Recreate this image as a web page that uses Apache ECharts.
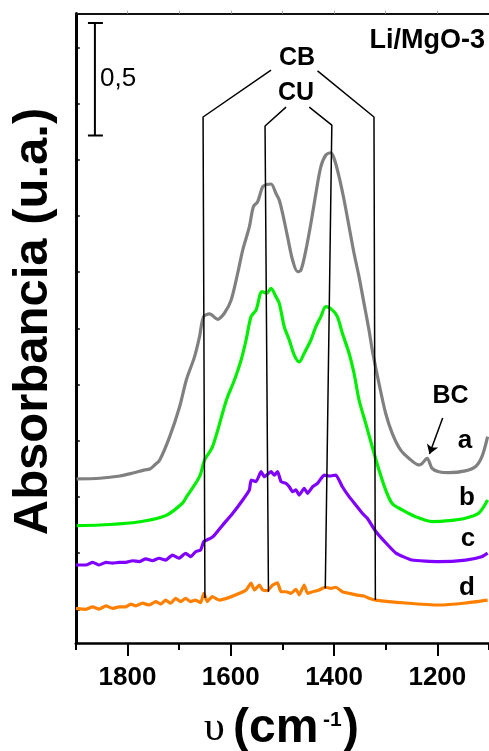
<!DOCTYPE html>
<html><head><meta charset="utf-8">
<script src="https://cdn.jsdelivr.net/npm/echarts@6/dist/echarts.min.js"></script>
<style>html,body{margin:0;padding:0;background:#fff}#c{width:489px;height:751px}</style>
</head><body><div id="c"></div>
<script>
// ---- data ----
const xTickLabels = [1200, 1400, 1600, 1800];
const xMinorTicks = [1100, 1300, 1500, 1700, 1900];
const xTopTicks = [1200, 1300, 1400, 1500, 1600, 1700, 1800];
const yTicks = [0.15, 0.40, 0.65, 0.90, 1.15, 1.40, 1.65, 1.90, 2.15, 2.40, 2.65];

// curve a (gray) [wavenumber, absorbance]
const curveA = [[1898.3,0.730],[1853.3,0.733],[1814.7,0.743],[1789.6,0.756],[1766.5,0.770],[1756.8,0.774],[1747.2,0.792],[1737.5,0.814],[1718.2,0.918],[1699.0,1.051],[1686.0,1.170],[1670.0,1.274],[1660.4,1.363],[1652.6,1.452],[1641.1,1.464],[1625.6,1.440],[1612.1,1.468],[1599.2,1.526],[1586.5,1.646],[1576.8,1.748],[1563.9,1.852],[1556.2,1.941],[1547.9,1.963],[1538.2,2.030],[1530.5,2.040],[1522.0,2.042],[1512.4,2.000],[1506.0,1.970],[1499.6,1.911],[1490.0,1.807],[1480.3,1.704],[1470.7,1.652],[1464.1,1.659],[1454.5,1.748],[1444.8,1.867],[1435.2,2.000],[1425.5,2.119],[1415.9,2.171],[1406.2,2.181],[1399.9,2.156],[1390.2,2.074],[1380.6,1.971],[1370.9,1.852],[1361.3,1.734],[1351.6,1.629],[1342.0,1.511],[1332.3,1.392],[1326.0,1.303],[1313.0,1.155],[1300.1,1.022],[1287.4,0.933],[1271.2,0.859],[1255.2,0.822],[1235.9,0.792],[1229.5,0.799],[1219.8,0.822],[1210.2,0.777],[1197.3,0.762],[1178.0,0.758],[1145.8,0.766],[1126.5,0.784],[1113.7,0.829],[1102.7,0.918]];
// curve b (green)
const curveB = [[1898.3,0.522],[1853.3,0.525],[1789.6,0.535],[1756.8,0.547],[1724.0,0.569],[1693.1,0.623],[1685.4,0.651],[1660.4,0.740],[1650.7,0.814],[1635.3,0.873],[1608.3,1.081],[1592.8,1.170],[1579.9,1.259],[1570.3,1.348],[1560.6,1.452],[1551.0,1.481],[1539.4,1.563],[1530.5,1.556],[1522.0,1.578],[1512.4,1.540],[1506.0,1.511],[1496.4,1.407],[1486.7,1.348],[1477.1,1.281],[1467.4,1.251],[1457.8,1.289],[1444.8,1.348],[1435.2,1.407],[1425.5,1.452],[1415.9,1.496],[1403.2,1.481],[1393.5,1.452],[1383.9,1.378],[1370.9,1.289],[1361.3,1.200],[1351.6,1.081],[1338.7,0.977],[1326.0,0.873],[1313.0,0.770],[1300.1,0.681],[1287.4,0.621],[1268.1,0.592],[1242.2,0.562],[1210.2,0.540],[1178.0,0.544],[1145.8,0.555],[1120.1,0.577],[1102.7,0.636]];
// curve c (purple)
const curveC = [[1899.6,0.347],[1880.3,0.347],[1867.4,0.359],[1854.7,0.347],[1841.7,0.359],[1828.8,0.355],[1816.1,0.359],[1803.1,0.359],[1790.2,0.366],[1777.5,0.362],[1764.5,0.374],[1751.6,0.366],[1738.9,0.377],[1725.9,0.369],[1713.0,0.391],[1700.3,0.377],[1687.4,0.399],[1677.7,0.384],[1668.1,0.406],[1658.4,0.414],[1652.1,0.451],[1639.1,0.466],[1631.4,0.480],[1615.4,0.525],[1596.1,0.577],[1576.8,0.636],[1563.9,0.681],[1560.6,0.725],[1551.0,0.718],[1541.3,0.762],[1534.9,0.740],[1522.0,0.762],[1515.6,0.747],[1509.3,0.762],[1502.7,0.718],[1493.1,0.710],[1486.7,0.695],[1480.3,0.673],[1473.8,0.681],[1467.4,0.658],[1457.8,0.688],[1451.4,0.666],[1441.7,0.695],[1432.1,0.710],[1419.2,0.747],[1409.5,0.743],[1396.6,0.747],[1383.9,0.695],[1370.9,0.651],[1358.0,0.614],[1345.3,0.577],[1335.6,0.555],[1318.8,0.495],[1299.5,0.445],[1280.2,0.400],[1249.4,0.369],[1197.3,0.362],[1145.2,0.369],[1114.3,0.384],[1102.7,0.400]];
// curve d (orange)
const curveD = [[1899.6,0.154],[1880.3,0.150],[1867.4,0.161],[1854.7,0.151],[1841.7,0.165],[1828.8,0.154],[1816.1,0.161],[1803.1,0.161],[1793.5,0.173],[1783.8,0.165],[1770.9,0.177],[1758.2,0.169],[1745.3,0.184],[1735.6,0.173],[1726.0,0.191],[1716.3,0.177],[1706.7,0.199],[1697.0,0.184],[1687.4,0.199],[1677.7,0.184],[1668.1,0.191],[1658.4,0.179],[1652.1,0.221],[1645.5,0.184],[1635.9,0.206],[1621.8,0.191],[1602.5,0.203],[1583.2,0.221],[1570.3,0.236],[1560.6,0.266],[1554.2,0.236],[1544.6,0.258],[1538.2,0.236],[1528.6,0.233],[1518.9,0.258],[1509.3,0.268],[1502.7,0.228],[1493.1,0.228],[1483.4,0.221],[1473.8,0.239],[1467.4,0.214],[1457.8,0.258],[1451.4,0.221],[1441.7,0.228],[1428.8,0.236],[1417.2,0.248],[1406.2,0.243],[1396.6,0.248],[1383.9,0.228],[1370.9,0.221],[1358.0,0.214],[1342.0,0.209],[1332.3,0.199],[1319.4,0.191],[1260.9,0.178],[1197.3,0.169],[1145.2,0.178],[1102.7,0.191]];

// annotation brackets (data coords)
const cbLeft  = [[1522,2.549],[1653.6,2.340],[1650,0.200]];
const cbRight = [[1432,2.545],[1322.7,2.340],[1320,0.191]];
const cuLeft  = [[1493,2.384],[1533.6,2.300],[1527,0.228]];
const cuRight = [[1448,2.384],[1404.3,2.304],[1417,0.243]];
const scaleBarX = 1863, scaleBarTop = 2.758, scaleBarLen = 0.5, scaleCapL = 1876.5, scaleCapR = 1847.5;
const bcArrow = [[1189.7,1.001],[1215.3,0.841]];

const colors = {a:'#808080', b:'#00ee00', c:'#8000ff', d:'#ff8000'};
const FF = "'Liberation Sans', Arial, sans-serif";

const chart = echarts.init(document.getElementById('c'), null, {renderer:'canvas'});

function curve(data, color, sm){
  return {type:'line', data, showSymbol:false, symbol:'none', smooth:sm, lineStyle:{color, width:3.2}, xAxisIndex:0, yAxisIndex:0, silent:true, z:2};
}
function blk(data, w){
  return {type:'line', data, showSymbol:false, symbol:'none', lineStyle:{color:'#000', width:w||1.5}, xAxisIndex:0, yAxisIndex:0, silent:true, z:3};
}
const scaleBar = [[scaleBarX, scaleBarTop],[scaleBarX, scaleBarTop - scaleBarLen]];
const capTop = [[scaleCapL, scaleBarTop],[scaleCapR, scaleBarTop]];
const capBot = [[scaleCapL, scaleBarTop - scaleBarLen],[scaleCapR, scaleBarTop - scaleBarLen]];

function txt(text, x, y, size, opts){
  opts = opts || {};
  return {type:'text', x, y, rotation: opts.rot || 0, z:10,
    style:{text, fill:'#000', font:(opts.weight||'bold')+' '+size+'px '+(opts.family||FF),
      align: opts.align || 'center', verticalAlign:'middle'}};
}

const option = {
  animation:false,
  backgroundColor:'#fff',
  grid:{left:75.8, right:-1.5, top:13.6, bottom:108, containLabel:false},
  xAxis:[
    {type:'value', min:1100, max:1900, inverse:true, position:'bottom',
     axisLine:{show:true, onZero:false, lineStyle:{color:'#000', width:2.5}},
     axisTick:{show:true, inside:false, length:13, customValues:xTickLabels, lineStyle:{color:'#000', width:2}},
     axisLabel:{show:true, customValues:xTickLabels, formatter:(v)=>String(v), margin:22, color:'#000', fontSize:26, fontWeight:'bold', fontFamily:FF},
     splitLine:{show:false}},
    {type:'value', min:1100, max:1900, inverse:true, position:'bottom',
     axisLine:{show:false, onZero:false},
     axisTick:{show:true, inside:false, length:7, customValues:xMinorTicks, lineStyle:{color:'#000', width:2}},
     axisLabel:{show:false}, splitLine:{show:false}},
    {type:'value', min:1100, max:1900, inverse:true, position:'top',
     axisLine:{show:true, onZero:false, lineStyle:{color:'#111', width:2}},
     axisTick:{show:true, inside:false, length:3, customValues:xTopTicks, lineStyle:{color:'#aaa', width:1}},
     axisLabel:{show:false}, splitLine:{show:false}}
  ],
  yAxis:[
    {type:'value', min:0, max:2.8, position:'left',
     axisLine:{show:true, onZero:false, lineStyle:{color:'#000', width:3}},
     axisTick:{show:true, inside:true, length:4, customValues:yTicks, lineStyle:{color:'#000', width:1.5}},
     axisLabel:{show:false}, splitLine:{show:false}}
  ],
  series:[
    curve(curveA, colors.a, 0.3),
    curve(curveB, colors.b, 0.3),
    curve(curveC, colors.c, 0.15),
    curve(curveD, colors.d, 0.15),
    blk(cbLeft), blk(cbRight), blk(cuLeft), blk(cuRight),
    blk(scaleBar, 2), blk(capTop, 2), blk(capBot, 2),
    {type:'lines', coordinateSystem:'cartesian2d', xAxisIndex:0, yAxisIndex:0, silent:true, z:3,
     symbol:['none','arrow'], symbolSize:9,
     lineStyle:{color:'#000', width:1.5, opacity:1},
     data:[{coords:bcArrow}]}
  ],
  graphic:[
    txt('Absorbancia (u.a.)', 33, 321.5, 49, {rot:Math.PI/2}),
    txt('Li/MgO-3', 485, 40.5, 27, {align:'right'}),
    txt('CB', 297, 58, 25),
    txt('CU', 296, 93, 25),
    txt('0,5', 100, 79, 26, {align:'left', weight:'normal'}),
    txt('BC', 450.5, 396, 25),
    txt('a', 465, 441, 26),
    txt('b', 467, 497.6, 26),
    txt('c', 468, 539, 26),
    txt('d', 467, 588, 26),
    txt('\u03C5', 204, 744 - 0.35*42, 42, {align:'left', weight:'normal', family:"'Liberation Serif', 'DejaVu Serif', serif"}),
    txt('(cm', 233, 745 - 0.3465*48, 48, {align:'left'}),
    txt('-1', 323, 727 - 0.3465*21, 21, {align:'left'}),
    txt(')', 343, 745 - 0.3465*48, 48, {align:'left'})
  ]
};
chart.setOption(option);
</script></body></html>
